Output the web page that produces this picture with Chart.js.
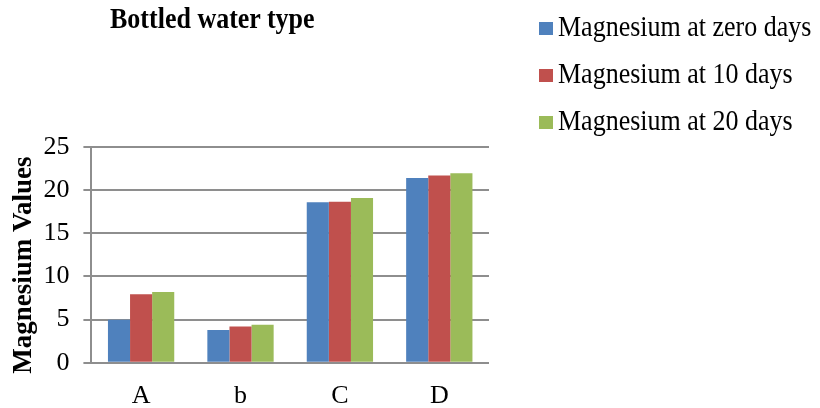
<!DOCTYPE html>
<html lang="en">
<head>
  <meta charset="UTF-8">
  <title>Bottled water type</title>
  <style>
    body {
      margin: 0;
      background: #fff;
      font-family: "Liberation Serif", "Times New Roman", serif;
    }
    #wrap {
      position: relative;
      width: 820px;
      height: 408px;
    }
    #chart {
      position: absolute;
      left: 0;
      top: 0;
    }
    #title {
      position: absolute;
      left: 110px;
      top: 5px;
      font-size: 26px;
      font-weight: bold;
      color: #000;
      white-space: nowrap;
      transform: scaleY(1.12);
      transform-origin: 0 23px;
    }
    #legend {
      position: absolute;
      left: 539px;
      top: 0;
    }
    .legend-item {
      position: relative;
      height: 47px;
      width: 281px;
    }
    .legend-item .box {
      position: absolute;
      left: 0;
      top: 22px;
      width: 14px;
      height: 13px;
    }
    .legend-item .text {
      position: absolute;
      left: 19px;
      top: 13px;
      font-size: 26px;
      color: #000;
      white-space: nowrap;
      transform: scaleY(1.12);
      transform-origin: 0 23px;
    }
  </style>
</head>
<body>
  <div id="wrap">
    <canvas id="chart" width="820" height="408"></canvas>
    <div id="title">Bottled water type</div>
    <div id="legend"></div>
  </div>

  <script src="https://cdn.jsdelivr.net/npm/chart.js"></script>
  <script>
    const categories = ['A', 'b', 'C', 'D'];
    const seriesNames = ['Magnesium at zero days', 'Magnesium at 10 days', 'Magnesium at 20 days'];
    const zeroDays = [5.0, 3.8, 18.6, 21.4];
    const tenDays = [7.95, 4.2, 18.65, 21.7];
    const twentyDays = [8.2, 4.4, 19.1, 21.95];
    const colors = ['#4F81BD', '#C0504D', '#9BBB59'];

    const font = '"Liberation Serif", "Times New Roman", serif';
    const gridColor = '#8e8e8e';

    const values = [zeroDays, tenDays, twentyDays];
    const datasets = seriesNames.map((name, i) => ({
      label: name,
      data: values[i],
      backgroundColor: colors[i],
      borderWidth: 0,
      categoryPercentage: 0.667,
      barPercentage: 1.0
    }));

    // legend in html so it can sit at the top right like the original
    const legend = document.getElementById('legend');
    seriesNames.forEach((name, i) => {
      const row = document.createElement('div');
      row.className = 'legend-item';
      row.innerHTML = `<span class="box" style="background:${colors[i]}"></span><span class="text">${name}</span>`;
      legend.appendChild(row);
    });

    new Chart(document.getElementById('chart'), {
      type: 'bar',
      data: {
        labels: categories,
        datasets: datasets
      },
      options: {
        responsive: false,
        animation: false,
        layout: {
          padding: { top: 147, right: 331, bottom: -14, left: -9 }
        },
        plugins: {
          legend: { display: false },
          title: { display: false },
          tooltip: { enabled: false }
        },
        scales: {
          x: {
            grid: { display: false },
            border: { display: false },
            ticks: {
              color: '#000',
              padding: 10,
              font: { family: font, size: 26 }
            }
          },
          y: {
            min: 0,
            max: 25,
            ticks: {
              stepSize: 5,
              color: '#000',
              padding: 14,
              font: { family: font, size: 26 }
            },
            grid: {
              color: gridColor,
              lineWidth: 2,
              tickLength: 8
            },
            border: { display: true, color: gridColor, width: 2 },
            title: {
              display: true,
              // trailing spaces nudge the label down a little, as in the original
              text: 'Magnesium Values   ',
              color: '#000',
              padding: { top: 17, bottom: -11 },
              font: { family: font, size: 27, weight: 'bold' }
            }
          }
        }
      }
    });
  </script>
</body>
</html>
